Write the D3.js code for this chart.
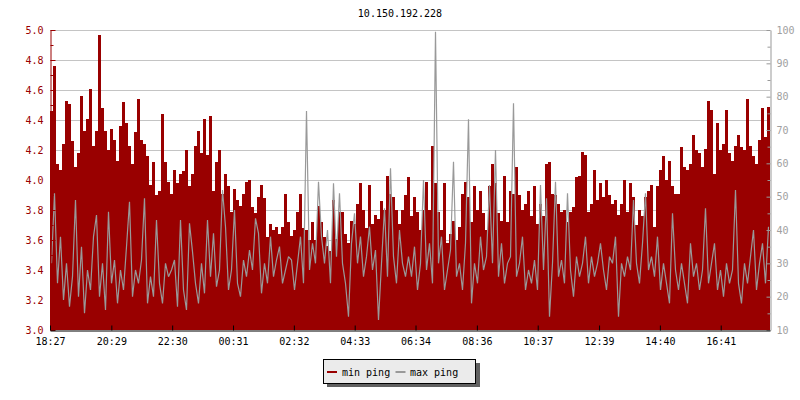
<!DOCTYPE html>
<html>
<head>
<meta charset="utf-8">
<script src="https://cdn.jsdelivr.net/npm/d3@7"></script>
<style>
  html, body { margin: 0; padding: 0; background: #ffffff; }
  svg { display: block; }
  text { font-family: "DejaVu Sans Mono", monospace; font-size: 10px; }
</style>
</head>
<body>
<svg id="chart" width="800" height="400"></svg>
<script>
// ---------------- data ----------------
const chartTitle = "10.150.192.228";
const startTime = "18:27";
const spanMinutes = 1432;
const timeLabels = ["18:27","20:29","22:30","00:31","02:32","04:33","06:34","08:36","10:37","12:39","14:40","16:41"];
const leftTickValues = [3.0,3.2,3.4,3.6,3.8,4.0,4.2,4.4,4.6,4.8,5.0];
const rightTickValues = [10,20,30,40,50,60,70,80,90,100];
const seriesNames = ["min ping","max ping"];

const minPing = [
  4.46,4.76,4.11,4.07,4.24,4.53,4.51,4.26,4.09,4.18,4.56,4.33,4.41,4.61,4.23,4.33,4.97,4.48,4.33,4.20,
  4.34,4.27,4.13,4.36,4.52,4.38,4.23,4.11,4.32,4.54,4.27,4.24,4.16,3.97,4.12,3.90,3.93,4.44,4.12,3.99,
  3.91,4.07,3.98,4.04,4.06,4.20,3.96,4.04,4.23,4.33,4.18,4.41,4.17,4.43,3.93,4.12,4.20,3.91,4.04,3.96,
  3.79,3.94,3.87,3.83,3.91,3.99,4.00,3.82,3.78,3.89,3.97,3.88,3.62,3.71,3.67,3.69,3.64,3.69,3.91,3.72,
  3.63,3.67,3.79,3.91,3.68,3.67,3.60,3.72,3.60,3.83,3.72,3.62,3.56,3.53,3.87,3.61,3.79,3.79,3.64,3.58,
  3.73,3.71,3.84,3.98,3.80,3.68,3.97,3.71,3.77,3.74,3.86,3.80,4.03,3.91,3.89,3.80,3.71,3.80,3.90,4.02,
  3.76,3.89,3.79,3.67,3.80,3.99,3.80,4.23,3.98,3.79,3.67,3.98,3.58,3.64,3.73,3.60,3.69,3.91,3.99,3.89,
  3.72,3.96,3.80,3.93,3.78,3.67,3.96,4.11,3.98,3.78,3.73,4.03,3.72,3.93,3.91,4.09,3.90,3.80,3.84,3.93,
  3.76,3.96,3.71,3.84,3.76,4.11,4.12,3.91,3.90,3.84,3.79,3.80,3.72,3.79,3.82,4.02,4.03,4.19,4.17,3.79,
  3.84,4.07,3.87,3.98,3.89,4.00,3.90,3.84,3.87,3.77,3.84,4.00,3.79,3.98,3.89,3.70,3.80,3.76,3.89,3.93,
  3.97,3.69,3.96,4.07,4.16,4.00,4.13,3.96,3.91,3.91,4.22,4.09,4.07,4.11,4.30,4.20,4.18,4.09,4.21,4.53,
  4.47,4.04,4.38,4.20,4.24,4.47,4.18,4.13,4.23,4.30,4.22,4.20,4.54,4.23,4.16,4.11,4.27,4.48,4.29,4.49
];

const maxPing = [
  30,51,24,38,19,30,17,26,49,20,35,15,28,22,38,44.5,20,30,16,45.5,
  24,31,18,28,22,35,48.5,20,28,24,31,49.5,18,26,20,43,24,18,30,26,
  28,31,17,43,22,16,42,33.5,24,18,30,21,43,26,39,23,28,52,41,22,
  28,46,24,20,31,26,34,28,43.5,39,21,30,24,38,26,31,35,24,28,32,
  31,22,30,38,24,75.7,28,36,30,54.5,38,30,40,24,54,32,51,30,24,14,
  36,45,30,38,26,32,41,28,34,13,30,46.5,26,58.5,32,24,40,30,26,32,
  26,35,22,30,55,28,36,24,99.5,30,38,22,28,34,60.5,26,30,22,36,73.2,
  18,30,24,38,28,32,53.5,30,64,26,36,24,30,32,78,26,30,38,22,28,
  24,31,22,53.5,28,49.5,14,30,54.5,26,31,24,51,28,20,32,26,30,38,24,
  32,26,30,36,28,22,32,30,38,14,30,26,32,28,49,30,24,36,51,28,
  32,26,38,22,30,24,18,45,28,22,30,24,18,36,26,30,22,28,46.5,24,
  30,36,22,28,20,30,24,28,52,24,18,30,24,32,40,22,30,36,24,41
];

// ---------------- layout ----------------
const RED = "#990000", GREY = "#999999", GRID = "#c4c4c4";
const plot = { left: 50, right: 770, top: 30, bottom: 330 };

const svg = d3.select("#chart");

const parseHM = d3.timeParse("%Y-%m-%d %H:%M");
const t0 = parseHM("2020-01-01 " + startTime);
const tEnd = d3.timeMinute.offset(t0, spanMinutes);
const tickDates = timeLabels.map(l => {
  let d = parseHM("2020-01-01 " + l);
  if (d < t0) d = d3.timeDay.offset(d, 1);
  return d;
});

const N = minPing.length;
const sampleTimes = minPing.map((_, i) => new Date(+t0 + (tEnd - t0) * i / N));

const x = d3.scaleTime().domain([t0, tEnd]).range([plot.left, plot.right]);
const yL = d3.scaleLinear().domain([3.0, 5.0]).range([plot.bottom, plot.top]);
const yR = d3.scaleLinear().domain([10, 100]).range([plot.bottom, plot.top]);

// title
svg.append("text")
  .attr("x", 400).attr("y", 17)
  .attr("text-anchor", "middle")
  .attr("fill", "#000")
  .text(chartTitle);

// grid
svg.append("g").selectAll("line")
  .data(leftTickValues.filter(v => v > 3.0))
  .join("line")
  .attr("x1", plot.left).attr("x2", plot.right)
  .attr("y1", d => Math.round(yL(d)) + 0.5).attr("y2", d => Math.round(yL(d)) + 0.5)
  .attr("stroke", GRID).attr("stroke-width", 1);

// data
const minData = minPing.map((v, i) => ({ t: sampleTimes[i], v }));
minData.push({ t: tEnd, v: minPing[N - 1] });
const maxData = maxPing.map((v, i) => ({ t: new Date(+sampleTimes[i] + (tEnd - t0) / N / 2), v }));

const area = d3.area()
  .x(d => x(d.t))
  .y0(yL(3.0))
  .y1(d => yL(d.v))
  .curve(d3.curveStepAfter);

svg.append("path")
  .datum(minData)
  .attr("d", area)
  .attr("fill", RED)
  .attr("shape-rendering", "crispEdges");

const line = d3.line()
  .x(d => x(d.t))
  .y(d => yR(d.v))
  .curve(d3.curveLinear);

svg.append("path")
  .datum(maxData)
  .attr("d", line)
  .attr("fill", "none")
  .attr("stroke", GREY)
  .attr("stroke-width", 1.2)
  .attr("stroke-linejoin", "miter")
  .attr("stroke-miterlimit", 2);

// left axis
const leftMinor = d3.range(3.1, 5.0, 0.2).map(v => +v.toFixed(1));
const gLm = svg.append("g").attr("transform", `translate(${plot.left + 0.5},0)`)
  .call(d3.axisLeft(yL).tickValues(leftMinor).tickSize(-3).tickFormat(""));
gLm.select(".domain").remove();
gLm.selectAll("line").attr("stroke", RED);

const gL = svg.append("g").attr("transform", `translate(${plot.left + 0.5},0)`)
  .call(d3.axisLeft(yL).tickValues(leftTickValues).tickSize(-5).tickSizeOuter(0).tickPadding(7).tickFormat(d3.format(".1f")));
gL.select(".domain").attr("stroke", RED);
gL.selectAll("line").attr("stroke", RED);
gL.selectAll("text").attr("fill", RED).style("font-family", "DejaVu Sans Mono").style("font-size", "10px");

// right axis
const rightMinor = d3.range(15, 100, 10);
const gRm = svg.append("g").attr("transform", `translate(${plot.right + 0.5},0)`)
  .call(d3.axisRight(yR).tickValues(rightMinor).tickSize(-3).tickFormat(""));
gRm.select(".domain").remove();
gRm.selectAll("line").attr("stroke", GREY);

const gR = svg.append("g").attr("transform", `translate(${plot.right + 0.5},0)`)
  .call(d3.axisRight(yR).tickValues(rightTickValues).tickSize(-4).tickSizeOuter(0).tickPadding(6).tickFormat(d3.format("d")));
gR.select(".domain").attr("stroke", GREY);
gR.selectAll("line").attr("stroke", GREY);
gR.selectAll("text").attr("fill", "#a0a0a0").style("font-family", "DejaVu Sans Mono").style("font-size", "10px");

// bottom axis
const gB = svg.append("g").attr("transform", `translate(0,${plot.bottom + 0.5})`)
  .call(d3.axisBottom(x).tickValues(tickDates).tickSize(-5).tickSizeOuter(0).tickPadding(7).tickFormat(d3.timeFormat("%H:%M")));
gB.select(".domain").attr("stroke", "#000");
gB.selectAll("line").attr("stroke", "#000");
gB.selectAll("text").attr("fill", "#000").style("font-family", "DejaVu Sans Mono").style("font-size", "10px");

// legend
const lg = svg.append("g");
lg.append("rect").attr("x", 327).attr("y", 363).attr("width", 153).attr("height", 24).attr("fill", "#606060");
lg.append("rect").attr("x", 323.5).attr("y", 359.5).attr("width", 152).attr("height", 24)
  .attr("fill", "#ebebeb").attr("stroke", "#000").attr("stroke-width", 1);
const legendItems = [
  { name: seriesNames[0], color: RED, sx: 327, tx: 342 },
  { name: seriesNames[1], color: GREY, sx: 395.5, tx: 410 }
];
legendItems.forEach(it => {
  lg.append("line").attr("x1", it.sx).attr("x2", it.sx + 10)
    .attr("y1", 372).attr("y2", 372).attr("stroke", it.color).attr("stroke-width", 2);
  lg.append("text").attr("x", it.tx).attr("y", 375.5).attr("fill", "#000").text(it.name);
});
</script>
</body>
</html>
